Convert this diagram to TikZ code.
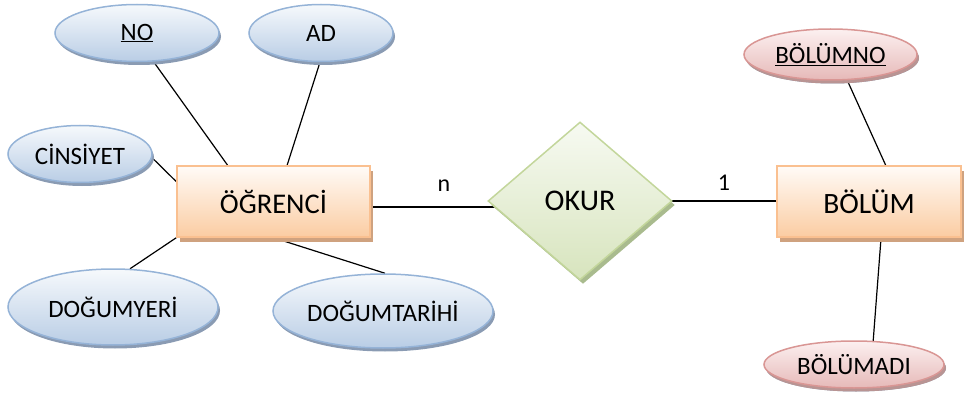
\documentclass[tikz,border=0pt]{standalone}
\usepackage{fontspec}
\setmainfont{Carlito}
\usetikzlibrary{shapes.geometric,shadows,calc}
\pgfdeclarelayer{background}
\pgfsetlayers{background,main}
\definecolor{bluetop}{HTML}{F6F9FC}
\definecolor{bluebot}{HTML}{B9CDE5}
\definecolor{blueline}{HTML}{95B3D7}
\definecolor{blueshadow}{HTML}{8A9BB3}
\definecolor{ortop}{HTML}{FFFBF7}
\definecolor{orbot}{HTML}{FBCCA2}
\definecolor{orline}{HTML}{FAC090}
\definecolor{orshadow}{HTML}{CFA27F}
\definecolor{grtop}{HTML}{F7FAF2}
\definecolor{grbot}{HTML}{D7E4BD}
\definecolor{grline}{HTML}{C3D69B}
\definecolor{grshadow}{HTML}{A9BB8E}
\definecolor{rdtop}{HTML}{FCF0F0}
\definecolor{rdbot}{HTML}{E6B9B8}
\definecolor{rdline}{HTML}{D99694}
\definecolor{rdshadow}{HTML}{B99493}
\tikzset{
  attr/.style={ellipse, inner sep=0pt, line width=1.5pt, shading=axis,
    top color=bluetop, bottom color=bluebot, draw=blueline,
    drop shadow={shadow xshift=2pt, shadow yshift=-3.5pt, fill=blueshadow, opacity=1},
    font=\fontsize{25}{30}\selectfont},
  rattr/.style={attr, top color=rdtop, bottom color=rdbot, draw=rdline,
    drop shadow={shadow xshift=2pt, shadow yshift=-3.5pt, fill=rdshadow, opacity=1}},
  entity/.style={rectangle, inner sep=0pt, line width=1.5pt, shading=axis,
    top color=ortop, bottom color=orbot, draw=orline,
    drop shadow={shadow xshift=3pt, shadow yshift=-5pt, fill=orshadow, opacity=1},
    font=\fontsize{28.5}{33}\selectfont},
  rel/.style={diamond, inner sep=0pt, line width=1.5pt, shading=axis,
    top color=grtop, bottom color=grbot, draw=grline,
    drop shadow={shadow xshift=3pt, shadow yshift=-4pt, fill=grshadow, opacity=1},
    font=\fontsize{30}{35}\selectfont},
  conn/.style={line width=1.2pt, black},
  card/.style={font=\fontsize{24}{28}\selectfont, inner sep=0pt}
}
\begin{document}
\begin{tikzpicture}[x=1pt,y=-1pt]
\useasboundingbox (0,0) rectangle (964,401);
% entities and relationship
\node[entity, minimum width=193pt, minimum height=71pt] (ogr) at (273.5,201.5) {ÖĞRENCİ};
\node[entity, minimum width=184pt, minimum height=71pt, font=\fontsize{29.5}{34}\selectfont] (bol) at (869,201.5) {BÖLÜM};
\node[rel, minimum width=184pt, minimum height=158pt] (okur) at (580,201) {OKUR};
% attributes
\node[attr, minimum width=164pt, minimum height=57pt] (no) at (137,33) {\underline{NO}};
\node[attr, minimum width=144pt, minimum height=57pt] (ad) at (321,33) {AD};
\node[attr, minimum width=144pt, minimum height=57pt] (cins) at (80,154) {CİNSİYET};
\node[attr, minimum width=210pt, minimum height=76pt] (dy) at (113,307) {DOĞUMYERİ};
\node[attr, minimum width=220pt, minimum height=74pt] (dt) at (383,311) {DOĞUMTARİHİ};
\node[rattr, minimum width=173pt, minimum height=51pt] (bno) at (830.5,54.5) {\underline{BÖLÜMNO}};
\node[rattr, minimum width=180pt, minimum height=47pt] (bad) at (854,364.5) {BÖLÜMADI};
% cardinalities
\node[card] (cn) at (444,186) {n};
\node[card] (c1) at (724,183) {1};
% connectors
\begin{pgfonlayer}{background}
\draw[conn] (no.-60) -- ($(ogr.north west)!0.264!(ogr.north east)$);
\draw[conn] (ad.-92) -- ($(ogr.north west)!0.57!(ogr.north east)$);
\draw[conn] (cins.-3) -- ($(ogr.north west)!0.225!(ogr.south west)$);
\draw[conn] (dy.66) -- (ogr.south west);
\draw[conn] (dt.87) -- (ogr.south);
\draw[conn] ([yshift=-5.5pt]ogr.east) -- ([yshift=-5.5pt]ogr.east -| okur.center);
\draw[conn] (okur.center) -- (okur.center -| bol.west);
\draw[conn] (bno.-57) -- ($(bol.north west)!0.59!(bol.north east)$);
\draw[conn] (bad.51) -- ($(bol.south west)!0.565!(bol.south east)$);
\end{pgfonlayer}
\end{tikzpicture}
\end{document}
